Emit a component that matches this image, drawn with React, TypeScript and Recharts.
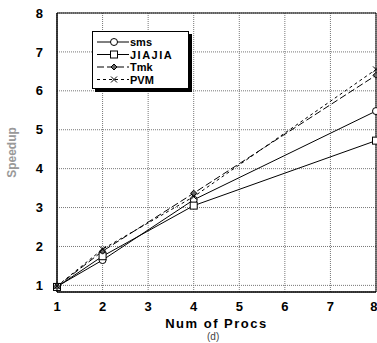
import { CartesianGrid, Line, LineChart, ReferenceArea, XAxis, YAxis } from "recharts"

const procs = [1, 2, 4, 8]
const sms = [0.97, 1.65, 3.2, 5.48]
const jiajia = [0.96, 1.75, 3.05, 4.72]
const tmk = [0.97, 1.88, 3.37, 6.4]
const pvm = [0.98, 1.93, 3.28, 6.55]
const xTicks = [1, 2, 3, 4, 5, 6, 7, 8]
const yTicks = [1, 2, 3, 4, 5, 6, 7, 8]

const data = procs.map((p, i) => ({ p, sms: sms[i], jiajia: jiajia[i], tmk: tmk[i], pvm: pvm[i] }))

const font = "'Liberation Sans', Arial, sans-serif"

const CircleDot = (props: any) => {
  const { cx, cy, key } = props
  return <circle key={key} cx={cx} cy={cy} r={3.5} fill="#fff" stroke="#000" strokeWidth={1} />
}
const SquareDot = (props: any) => {
  const { cx, cy, key } = props
  return <rect key={key} x={cx - 3.5} y={cy - 3.5} width={7} height={7} fill="#fff" stroke="#000" strokeWidth={1} />
}
const DiamondDot = (props: any) => {
  const { cx, cy, key } = props
  return (
    <path
      key={key}
      d={`M${cx},${cy - 3} L${cx + 3},${cy} L${cx},${cy + 3} L${cx - 3},${cy} Z`}
      fill="#666"
      stroke="#000"
      strokeWidth={1}
    />
  )
}
const CrossDot = (props: any) => {
  const { cx, cy, key } = props
  return (
    <path
      key={key}
      d={`M${cx - 3},${cy - 3} L${cx + 3},${cy + 3} M${cx - 3},${cy + 3} L${cx + 3},${cy - 3}`}
      stroke="#000"
      strokeWidth={1}
    />
  )
}

const legendRows = [
  { name: "sms", dash: undefined, marker: "circle", spacing: 0 },
  { name: "JIAJIA", dash: undefined, marker: "square", spacing: 1.5 },
  { name: "Tmk", dash: "7 3", marker: "diamond", spacing: 0 },
  { name: "PVM", dash: "3 3", marker: "cross", spacing: 0 },
]

function LegendBox() {
  return (
    <div
      style={{
        position: "absolute",
        left: 92,
        top: 31,
        width: 97,
        height: 58,
        border: "1.5px solid #000",
        boxShadow: "3px 3px 0 #000",
        background: "#fff",
        boxSizing: "border-box",
      }}
    >
      <svg width={95} height={56} style={{ display: "block" }}>
        {legendRows.map((r, i) => {
          const y = 10 + i * 12.5
          const cx = 21
          return (
            <g key={r.name}>
              <line x1={4} x2={36} y1={y} y2={y} stroke="#000" strokeWidth={1} strokeDasharray={r.dash} />
              {r.marker === "circle" && <CircleDot cx={cx} cy={y} />}
              {r.marker === "square" && <SquareDot cx={cx} cy={y} />}
              {r.marker === "diamond" && <DiamondDot cx={cx} cy={y} />}
              {r.marker === "cross" && <CrossDot cx={cx} cy={y} />}
              <text
                x={37}
                y={y + 4}
                fontFamily={font}
                fontWeight="bold"
                fontSize={11}
                letterSpacing={r.spacing}
                fill="#000"
              >
                {r.name}
              </text>
            </g>
          )
        })}
      </svg>
    </div>
  )
}

export default function App() {
  return (
    <div style={{ position: "absolute", left: 0, top: 0, width: 377, height: 343, background: "#fff", overflow: "hidden" }}>
      <LineChart width={377} height={343} data={data} margin={{ top: 13, right: 1, bottom: 0, left: 0 }}>
        <CartesianGrid stroke="#777" strokeDasharray="1 1" />
        <XAxis
          dataKey="p"
          type="number"
          domain={[1, 8]}
          ticks={xTicks}
          height={51}
          axisLine={{ stroke: "#000" }}
          tickLine={false}
          tick={{ fill: "#000", fontSize: 13, fontWeight: "bold", fontFamily: font }}
          tickMargin={4}
          label={{
            value: "Num of Procs",
            position: "insideBottom",
            offset: 15,
            fill: "#000",
            fontSize: 13,
            fontWeight: "bold",
            fontFamily: font,
            letterSpacing: 1.5,
          }}
        />
        <YAxis
          type="number"
          domain={[0.83, 8]}
          ticks={yTicks}
          width={57}
          allowDataOverflow
          axisLine={{ stroke: "#000" }}
          tickLine={false}
          tick={{ fill: "#000", fontSize: 13, fontWeight: "bold", fontFamily: font }}
          tickMargin={8}
          label={{
            value: "Speedup",
            angle: -90,
            position: "insideLeft",
            offset: 12,
            fill: "#999",
            fontSize: 12,
            fontWeight: "bold",
            fontFamily: font,
            style: { textAnchor: "middle" },
          }}
        />
        <ReferenceArea x1={1} x2={8} y1={0.83} y2={8} fill="none" stroke="#000" strokeWidth={1} />
        <Line dataKey="sms" stroke="#000" strokeWidth={1} dot={CircleDot} isAnimationActive={false} />
        <Line dataKey="jiajia" stroke="#000" strokeWidth={1} dot={SquareDot} isAnimationActive={false} />
        <Line dataKey="tmk" stroke="#000" strokeWidth={1} strokeDasharray="7 3" dot={DiamondDot} isAnimationActive={false} />
        <Line dataKey="pvm" stroke="#000" strokeWidth={1} strokeDasharray="3 3" dot={CrossDot} isAnimationActive={false} />
      </LineChart>
      <LegendBox />
      <div
        style={{
          position: "absolute",
          left: 207,
          top: 331,
          fontFamily: font,
          fontSize: 10,
          lineHeight: "11px",
          color: "#444",
        }}
      >
        (d)
      </div>
    </div>
  )
}
